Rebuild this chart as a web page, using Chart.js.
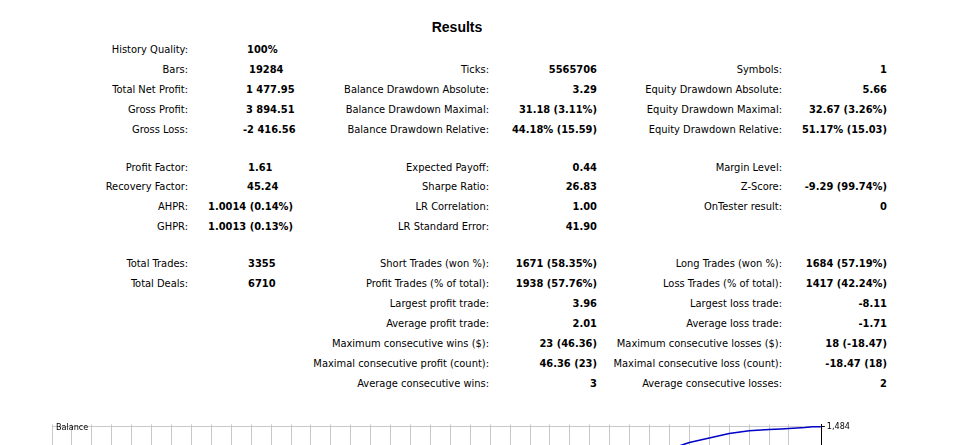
<!DOCTYPE html><html><head><meta charset="utf-8">
<script src="https://cdn.jsdelivr.net/npm/chart.js@4"></script>
<style>
body{margin:0;width:977px;height:445px;overflow:hidden;background:#fff;font-family:"DejaVu Sans Condensed","Liberation Sans",sans-serif;font-size:11px;color:#000;position:relative}
.t{position:absolute;white-space:nowrap;line-height:13px}
.b{font-weight:bold}
#wrap{position:absolute;left:52px;top:417px;width:800px;height:240px}
</style></head><body>
<div class="t b" style="left:0;width:914px;text-align:center;top:21px;font-size:14px;font-family:'Liberation Sans',sans-serif">Results</div>
<div id="txt"></div>
<div id="wrap"><canvas id="c"></canvas></div>
<div class="t" style="left:56px;top:421px;font-size:9px">Balance</div>
<script>
const rowY=[43,63,83,103,123,161,180,200,220,257,277,297,317,337,357,377];
const col1Labels=["History Quality:","Bars:","Total Net Profit:","Gross Profit:","Gross Loss:","Profit Factor:","Recovery Factor:","AHPR:","GHPR:","Total Trades:","Total Deals:","","","","",""];
const col1Values=["100%","19284","1 477.95","3 894.51","-2 416.56","1.61","45.24","1.0014 (0.14%)","1.0013 (0.13%)","3355","6710","","","","",""];
const col1ValueX=[247,249,246,246,243,248,247,208,208,248,248,0,0,0,0,0];
const col2Labels=["","Ticks:","Balance Drawdown Absolute:","Balance Drawdown Maximal:","Balance Drawdown Relative:","Expected Payoff:","Sharpe Ratio:","LR Correlation:","LR Standard Error:","Short Trades (won %):","Profit Trades (% of total):","Largest profit trade:","Average profit trade:","Maximum consecutive wins ($):","Maximal consecutive profit (count):","Average consecutive wins:"];
const col2Values=["","5565706","3.29","31.18 (3.11%)","44.18% (15.59)","0.44","26.83","1.00","41.90","1671 (58.35%)","1938 (57.76%)","3.96","2.01","23 (46.36)","46.36 (23)","3"];
const col3Labels=["","Symbols:","Equity Drawdown Absolute:","Equity Drawdown Maximal:","Equity Drawdown Relative:","Margin Level:","Z-Score:","OnTester result:","","Long Trades (won %):","Loss Trades (% of total):","Largest loss trade:","Average loss trade:","Maximum consecutive losses ($):","Maximal consecutive loss (count):","Average consecutive losses:"];
const col3Values=["","1","5.66","32.67 (3.26%)","51.17% (15.03)","","-9.29 (99.74%)","0","","1684 (57.19%)","1417 (42.24%)","-8.11","-1.71","18 (-18.47)","-18.47 (18)","2"];
const balanceX=[0,2,4,6,8,10,12,14,16,18,20,22,24,26,28,30,32,34,35,36,36.6,37.2,37.8,38.2,38.6];
const balance=[0,60,130,210,290,370,450,540,630,720,810,900,990,1090,1190,1290,1380,1440,1458,1466,1470,1474,1479,1484,1484];
const yTicks=[1484];
let h="";
function add(x,y,s,b,right){h+=`<div class="t${b?' b':''}" style="${right?'right:'+(977-x)+'px':'left:'+x+'px'};top:${y}px">${s}</div>`;}
rowY.forEach((y,i)=>{
 if(col1Labels[i])add(188,y,col1Labels[i],0,1);
 if(col1Values[i])add(col1ValueX[i],y,col1Values[i],1,0);
 if(col2Labels[i])add(489,y,col2Labels[i],0,1);
 if(col2Values[i])add(597,y,col2Values[i],1,1);
 if(col3Labels[i])add(782,y,col3Labels[i],0,1);
 if(col3Values[i])add(887,y,col3Values[i],1,1);
});
document.getElementById('txt').innerHTML=h;
new Chart(document.getElementById('c'),{type:'line',
data:{datasets:[{data:balanceX.map((x,i)=>({x,y:balance[i]})),borderColor:'#0000c8',borderWidth:1.5,pointRadius:0,tension:0}]},
options:{responsive:true,maintainAspectRatio:false,animation:false,layout:{padding:0},
plugins:{legend:{display:false},tooltip:{enabled:false}},
scales:{x:{type:'linear',min:0,max:38.65,ticks:{display:false,stepSize:1},grid:{color:'#c8c8c8',borderDash:[3,3],drawTicks:false},border:{display:true,color:'#000',width:1}},
y:{position:'right',min:0,max:1500,afterBuildTicks:a=>{a.ticks=yTicks.map(v=>({value:v}))},
ticks:{color:'#000',font:{size:9,family:'DejaVu Sans Condensed'},padding:2},
grid:{color:'#c8c8c8',drawTicks:true,tickLength:3,tickColor:'#000'},border:{display:true,color:'#000',width:1}}}}});
</script></body></html>
